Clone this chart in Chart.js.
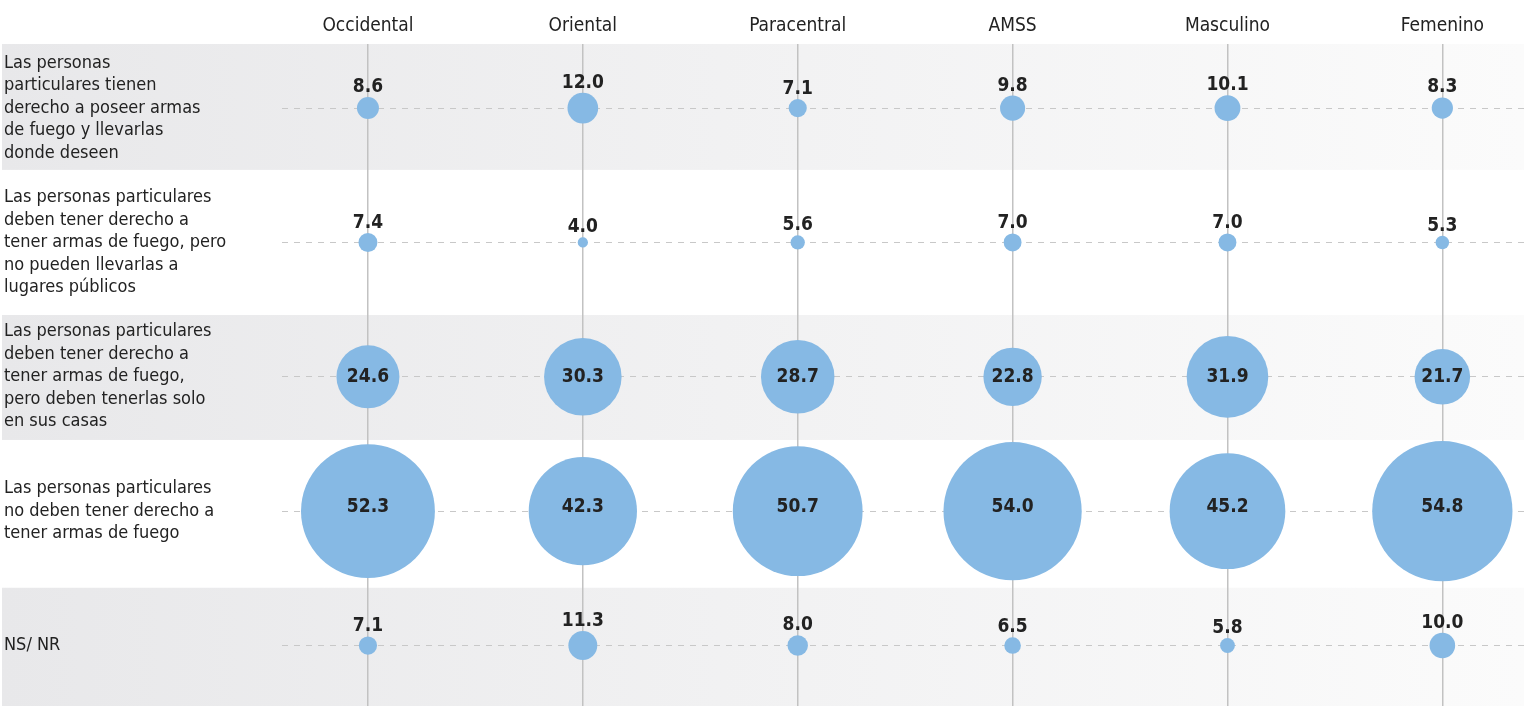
<!DOCTYPE html>
<html lang="es">
<head>
    <meta charset="UTF-8">
    <title>Armas de fuego</title>
    <style>
        body {
            margin: 0;
            padding: 0;
            background-color: white;
        }
        .chart-container {
            width: 1524px;
            height: 706px;
        }
    </style>
    <script src="https://cdn.jsdelivr.net/npm/chart.js"></script>
</head>
<body>
    <div class="chart-container">
        <canvas id="bubbleChart"></canvas>
    </div>

    <script>
        // Columns (regions and sex)
        const categories = ['Occidental', 'Oriental', 'Paracentral', 'AMSS', 'Masculino', 'Femenino'];

        // Row labels (answer options)
        const rowLabels = [
            ['Las personas', 'particulares tienen', 'derecho a poseer armas', 'de fuego y llevarlas', 'donde deseen'],
            ['Las personas particulares', 'deben tener derecho a', 'tener armas de fuego, pero', 'no pueden llevarlas a', 'lugares públicos'],
            ['Las personas particulares', 'deben tener derecho a', 'tener armas de fuego,', 'pero deben tenerlas solo', 'en sus casas'],
            ['Las personas particulares', 'no deben tener derecho a', 'tener armas de fuego'],
            ['NS/ NR']
        ];

        // Percentages, one array per row, in column order
        const rowPoseerLlevar = [8.6, 12.0, 7.1, 9.8, 10.1, 8.3];
        const rowTenerNoLlevar = [7.4, 4.0, 5.6, 7.0, 7.0, 5.3];
        const rowSoloCasa = [24.6, 30.3, 28.7, 22.8, 31.9, 21.7];
        const rowNoDerecho = [52.3, 42.3, 50.7, 54.0, 45.2, 54.8];
        const rowNsNr = [7.1, 11.3, 8.0, 6.5, 5.8, 10.0];

        const rows = [rowPoseerLlevar, rowTenerNoLlevar, rowSoloCasa, rowNoDerecho, rowNsNr];

        const FONT = '"Liberation Sans Narrow", "DejaVu Sans Condensed", "Roboto", sans-serif';
        const bubbleColor = '#86b9e4';
        const radiusPerPoint = 1.28;
        // where the row stripes split (in y-scale units)
        const bandEdges = [0.46, 1.54, 2.47, 3.57];

        const points = [];
        rows.forEach((vals, r) => {
            vals.forEach((v, c) => {
                points.push({ x: c, y: r, r: v * radiusPerPoint, v: v });
            });
        });

        // striped row backgrounds, drawn behind everything
        const bandPlugin = {
            id: 'bands',
            beforeDraw(chart) {
                const ctx = chart.ctx;
                const yScale = chart.scales.y;
                const area = chart.chartArea;
                const edges = [area.top];
                bandEdges.forEach(e => edges.push(yScale.getPixelForValue(e)));
                edges.push(area.bottom);
                ctx.save();
                for (let i = 0; i < rows.length; i++) {
                    if (i % 2 !== 0) continue;
                    const grad = ctx.createLinearGradient(0, 0, chart.width, 0);
                    grad.addColorStop(0, '#e8e8ea');
                    grad.addColorStop(1, '#fbfbfb');
                    ctx.fillStyle = grad;
                    ctx.fillRect(2, edges[i], chart.width - 2, edges[i + 1] - edges[i]);
                }
                ctx.restore();
            }
        };

        // value labels: inside big bubbles, above small ones
        const valueLabels = {
            id: 'valueLabels',
            afterDatasetsDraw(chart) {
                const ctx = chart.ctx;
                const meta = chart.getDatasetMeta(0);
                ctx.save();
                ctx.font = 'bold 19px ' + FONT;
                ctx.fillStyle = '#222222';
                ctx.textAlign = 'center';
                meta.data.forEach((el, i) => {
                    const p = points[i];
                    const r = p.r;
                    const label = p.v.toFixed(1);
                    if (p.v > 20) {
                        ctx.textBaseline = 'middle';
                        ctx.fillText(label, el.x, el.y - (p.v > 40 ? 4 : 0));
                    } else {
                        ctx.textBaseline = 'alphabetic';
                        ctx.fillText(label, el.x, el.y - r - 5);
                    }
                });
                ctx.restore();
            }
        };

        new Chart(document.getElementById('bubbleChart'), {
            type: 'bubble',
            data: {
                datasets: [{
                    data: points,
                    backgroundColor: bubbleColor,
                    borderWidth: 0,
                    hoverRadius: 0
                }]
            },
            options: {
                responsive: true,
                maintainAspectRatio: false,
                animation: false,
                events: [],
                layout: { autoPadding: false, padding: { left: 4, right: 0, top: 0, bottom: 0 } },
                scales: {
                    x: {
                        type: 'linear',
                        position: 'top',
                        min: -0.4,
                        max: 5.38,
                        afterBuildTicks(scale) {
                            scale.ticks = categories.map((c, i) => ({ value: i }));
                        },
                        afterFit(scale) {
                            scale.height = 44;
                        },
                        ticks: {
                            callback: (value) => categories[value],
                            color: '#222222',
                            font: { family: FONT, size: 19 },
                            padding: 7,
                            maxRotation: 0,
                            autoSkip: false
                        },
                        grid: {
                            color: '#c2c2c2',
                            lineWidth: 1.5,
                            drawTicks: false
                        },
                        border: { display: false }
                    },
                    y: {
                        type: 'linear',
                        reverse: true,
                        min: -0.477,
                        max: 4.45,
                        afterBuildTicks(scale) {
                            scale.ticks = rowLabels.map((l, i) => ({ value: i }));
                        },
                        afterFit(scale) {
                            scale.width = 278;
                            scale.paddingTop = 0;
                            scale.paddingBottom = 0;
                        },
                        ticks: {
                            callback: (value) => rowLabels[value],
                            crossAlign: 'far',
                            color: '#222222',
                            font: { family: FONT, size: 18, lineHeight: 1.25 },
                            autoSkip: false
                        },
                        grid: {
                            color: '#c8c8c8',
                            lineWidth: 1,
                            drawTicks: false
                        },
                        border: { display: false, dash: [6, 6] }
                    }
                },
                plugins: {
                    legend: { display: false },
                    tooltip: { enabled: false }
                }
            },
            plugins: [bandPlugin, valueLabels]
        });
    </script>
</body>
</html>
